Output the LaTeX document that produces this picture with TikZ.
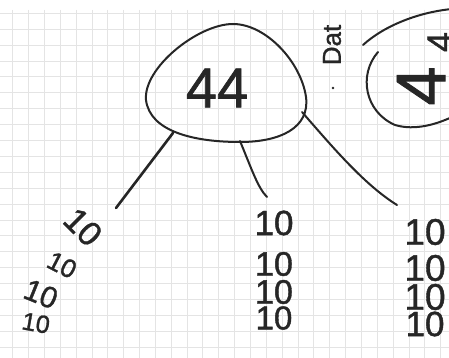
\documentclass[tikz,border=0pt]{standalone}
\usepackage{fontspec}
\setmainfont{Liberation Sans}
\newfontface\handf{Liberation Sans}[FakeBold=1.2]
\definecolor{inkc}{HTML}{262626}
\definecolor{gridc}{HTML}{E4E4E4}
\newcommand{\fsz}[1]{\handf\fontsize{#1}{#1}\selectfont}
\begin{document}
\begin{tikzpicture}[x=1pt,y=-1pt,
  ink/.style={draw=inkc, line width=2pt, line cap=round, line join=round},
  gridln/.style={draw=gridc, line width=0.9pt},
  hand/.style={text=inkc, inner sep=0pt},
]
\useasboundingbox (0,0) rectangle (449,358);
\clip (0,0) rectangle (449,358);
\fill[white] (0,0) rectangle (449,358);
% grid paper
\foreach \i in {-1,...,27} \draw[gridln] ({12.7+15.85*\i},10) -- ({12.7+15.85*\i},358);
\foreach \j in {0,...,21} \draw[gridln] (0,{13.3+15.9*\j}) -- (449,{13.3+15.9*\j});

% main oval
\draw[ink] (233,24) .. controls (266,24) and (301,62) .. (306,97)
  .. controls (310,128) and (280,142) .. (240,142)
  .. controls (195,142) and (150,132) .. (146,100)
  .. controls (143,68) and (198,24) .. (233,24);
\node[hand, font=\fsz{56}] (root) at (217,88) {44};

% side notes
\node[hand, font=\fsz{26}, rotate=90] (dat) at (332,45) {Dat};
\fill[inkc] (333,88) circle (1.4);

% right partial oval
\draw[ink] (363,45) .. controls (385,25) and (420,12) .. (452,9);
\draw[ink] (378,52) .. controls (358,75) and (365,112) .. (395,125)
  .. controls (415,131) and (437,124) .. (452,117);
\node[hand, font=\fsz{70}, rotate=90] (r4a) at (421,86) {4};
\node[hand, font=\fsz{36}, rotate=90] (r4b) at (440,42) {4};

% left column
\node[hand, font=\fsz{34}, rotate=-45] (l1) at (83,227) {10};
\node[hand, font=\fsz{26}, rotate=-27] (l2) at (62,265) {10};
\node[hand, font=\fsz{30}, rotate=-22] (l3) at (41,294) {10};
\node[hand, font=\fsz{25}, rotate=-10] (l4) at (36,323) {10};

% middle column
\node[hand, font=\fsz{35}] (m1) at (274,223) {10};
\node[hand, font=\fsz{34}] (m2) at (274,264) {10};
\node[hand, font=\fsz{34}] (m3) at (274,292) {10};
\node[hand, font=\fsz{33}] (m4) at (274,318) {10};

% right column
\node[hand, font=\fsz{37}] (r1) at (425,232) {10};
\node[hand, font=\fsz{37}] (r2) at (425,268) {10};
\node[hand, font=\fsz{37}] (r3) at (425,297) {10};
\node[hand, font=\fsz{35}] (r4) at (425,324) {10};

% connectors
\coordinate (oL) at (173,133);
\coordinate (oM) at (240,141);
\coordinate (oR) at (302,112);
\coordinate (eL) at (116,208);
\coordinate (eM) at (267,197);
\coordinate (eR) at (397,205);
\draw[ink, line width=2.6pt] (oL) -- (eL);
\draw[ink] (oM) .. controls (252,170) and (258,188) .. (eM);
\draw[ink] (oR) .. controls (335,150) and (365,185) .. (eR);
\end{tikzpicture}
\end{document}
